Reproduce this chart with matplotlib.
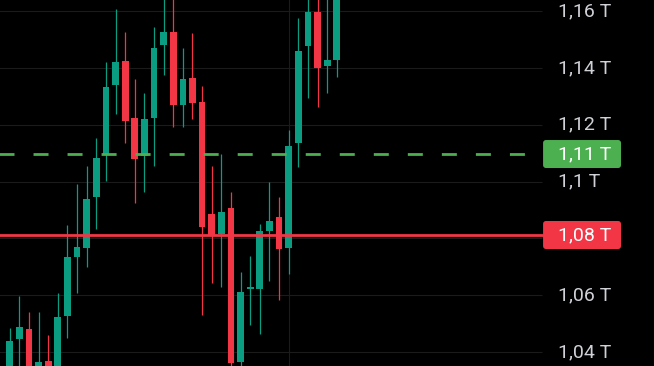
import numpy as np
import matplotlib
matplotlib.use("Agg")
import matplotlib.pyplot as plt
from matplotlib.patches import FancyBboxPatch

# OHLC (values in T)
opens  = [1.0330, 1.0446, 1.0481, 1.0330, 1.0368, 1.0330, 1.0527, 1.0734, 1.0766, 1.0946,
          1.1093, 1.1340, 1.1424, 1.1224, 1.1090, 1.1224, 1.1480, 1.1526, 1.1269, 1.1364,
          1.1280, 1.0886, 1.0815, 1.0907, 1.0365, 1.0622, 1.0622, 1.0826, 1.0875, 1.0766,
          1.1136, 1.1477, 1.1596, 1.1406, 1.1428]
highs  = [1.0485, 1.0597, 1.0541, 1.0541, 1.0460, 1.0608, 1.0847, 1.0991, 1.1055, 1.1153,
          1.1421, 1.1607, 1.1526, 1.1361, 1.1311, 1.1544, 1.1680, 1.1680, 1.1470, 1.1523,
          1.1336, 1.1055, 1.1097, 1.0963, 1.0682, 1.0738, 1.0851, 1.0998, 1.0946, 1.1181,
          1.1575, 1.1680, 1.1680, 1.1680, 1.1700]
lows   = [1.0300, 1.0310, 1.0300, 1.0300, 1.0300, 1.0300, 1.0449, 1.0608, 1.0699, 1.0833,
          1.1002, 1.1238, 1.1136, 1.0924, 1.0963, 1.1055, 1.1375, 1.1192, 1.1192, 1.1220,
          1.0530, 1.0643, 1.0629, 1.0300, 1.0300, 1.0495, 1.0463, 1.0650, 1.0583, 1.0675,
          1.1051, 1.1294, 1.1262, 1.1311, 1.1368]
closes = [1.0439, 1.0488, 1.0320, 1.0365, 1.0330, 1.0523, 1.0734, 1.0770, 1.0939, 1.1083,
          1.1333, 1.1421, 1.1213, 1.1079, 1.1220, 1.1470, 1.1526, 1.1269, 1.1361, 1.1276,
          1.0840, 1.0812, 1.0893, 1.0361, 1.0611, 1.0629, 1.0826, 1.0861, 1.0763, 1.1125,
          1.1459, 1.1596, 1.1399, 1.1428, 1.1680]

tick_vals = [1.04, 1.06, 1.08, 1.10, 1.12, 1.14, 1.16]
tick_labels = ["1,04 T", "1,06 T", "1,08 T", "1,1 T", "1,12 T", "1,14 T", "1,16 T"]
target_val, target_label = 1.1097, "1,11 T"
stop_val, stop_label = 1.0812, "1,08 T"

GREEN = "#0a9d82"
RED = "#f23645"
LINE_GREEN = "#4caf50"
TXT = "#cfd1d6"

plt.rcParams["font.family"] = ["Roboto", "DejaVu Sans"]
plt.rcParams["lines.scale_dashes"] = False

fig = plt.figure(figsize=(6.54, 3.66), dpi=100, facecolor="black")
ax = fig.add_axes([0, 0, 1, 1], facecolor="black")
ax.set_xlim(-1.008, 66.97)
ax.set_ylim(1.0351, 1.1639)
ax.axis("off")

grid_end = 55.33
ax.hlines(tick_vals, -2, grid_end, color="#1b1b1b", lw=0.8, zorder=0)
ax.axvline(29, color="#1b1b1b", lw=0.8, zorder=0)

x = np.arange(len(opens))
o = np.array(opens); c = np.array(closes)
cols = [GREEN if cc >= oo else RED for oo, cc in zip(o, c)]
ax.vlines(x, lows, highs, colors=cols, lw=0.9, zorder=2)
body = np.maximum(np.abs(c - o), 0.0005)
ax.bar(x, body, bottom=np.minimum(o, c), width=0.7, color=cols, zorder=3)

ax.plot([-2, grid_end], [target_val] * 2, color=LINE_GREEN, lw=2,
        linestyle=(0, (10.8, 13.7)), zorder=4)
ax.plot([-2, grid_end], [stop_val] * 2, color=RED, lw=2, zorder=4)

for v, lab in zip(tick_vals, tick_labels):
    if lab == stop_label:
        continue
    ax.text(56.99, v, lab, color=TXT, fontsize=14, va="center", ha="left")

half_h = 14 * (1.1639 - 1.0351) / 366
for v, lab, col in [(target_val, target_label, LINE_GREEN), (stop_val, stop_label, RED)]:
    box = FancyBboxPatch((55.44, v - half_h), 8.1, 2 * half_h,
                         boxstyle="round,pad=0,rounding_size=0.3",
                         mutation_aspect=(1.1639 - 1.0351) / 366 * 9.62,
                         fc=col, ec="none", zorder=5)
    ax.add_patch(box)
    ax.text(56.99, v, lab, color="white", fontsize=14, va="center", ha="left", zorder=6)

fig.savefig("out.png", dpi=100, facecolor="black")
